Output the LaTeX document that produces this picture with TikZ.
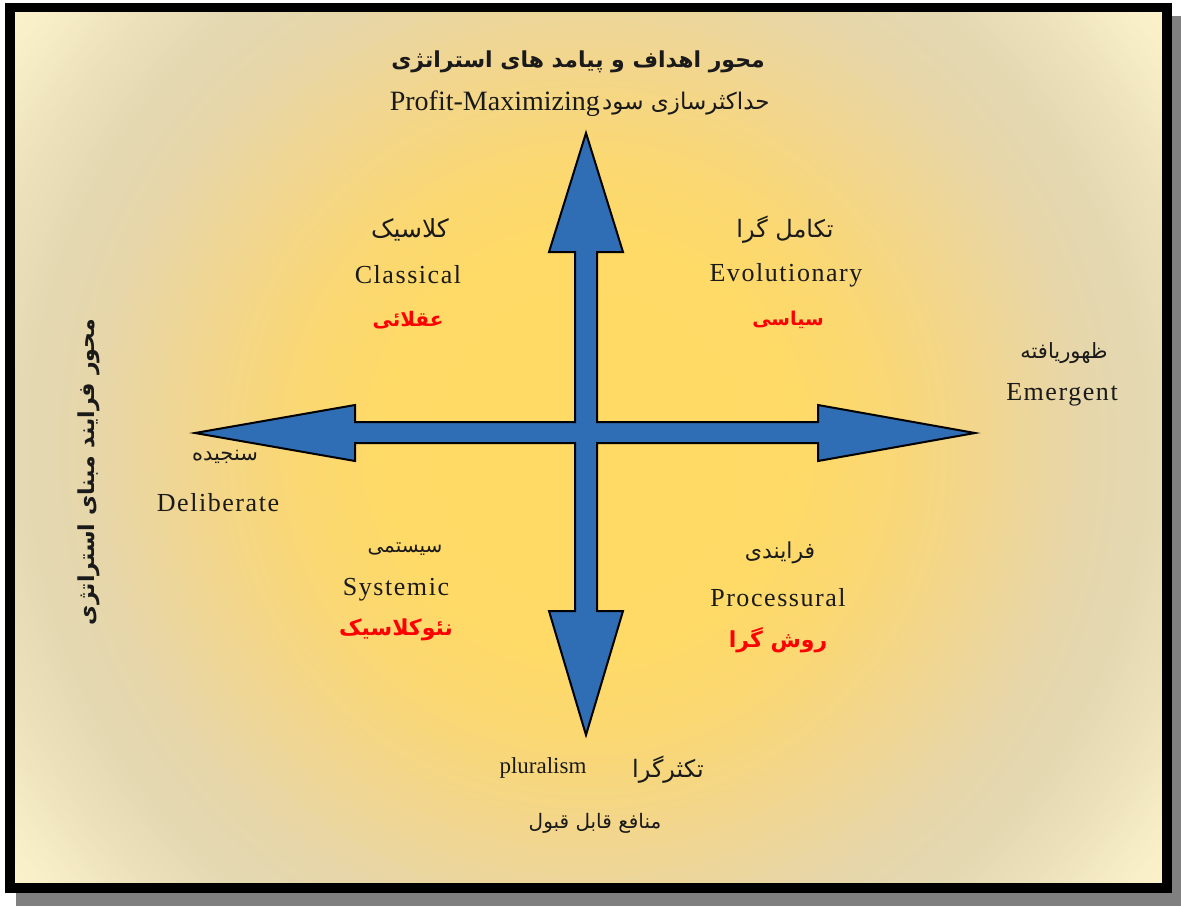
\documentclass[tikz,border=0pt]{standalone}
\usepackage{fontspec}
\setmainfont{Liberation Serif}
\newfontfamily\en[LetterSpace=6]{Liberation Serif}
\newfontfamily\enplain{Liberation Serif}
\newfontfamily\fa[Script=Arabic]{DejaVu Sans}
\TeXXeTstate=1
\definecolor{txt}{HTML}{1A1A1A}
\definecolor{arrowblue}{HTML}{2F6DB5}
\definecolor{shadowgray}{HTML}{808080}
\definecolor{sA}{RGB}{255,218,100}
\definecolor{sB}{RGB}{255,218,102}
\definecolor{sC}{RGB}{251,216,114}
\definecolor{sD}{RGB}{241,214,144}
\definecolor{sE}{RGB}{231,214,168}
\definecolor{sF}{RGB}{228,216,178}
\definecolor{sG}{RGB}{236,225,186}
\definecolor{sH}{RGB}{249,239,200}
\definecolor{sI}{RGB}{252,243,206}
\newcommand{\fasize}[1]{\fa\fontsize{#1}{#1}\selectfont}
\newcommand{\fabsize}[1]{\fa\bfseries\fontsize{#1}{#1}\selectfont}
\tikzset{
  en/.style={font=\en\fontsize{26}{30}\selectfont, text=txt, inner sep=0pt},
  fa/.style={font=\fasize{#1}, text=txt, inner sep=0pt},
  fa/.default=22,
  fared/.style={font=\fabsize{#1}, text=red, inner sep=0pt},
  fared/.default=20,
  fatitle/.style={font=\fabsize{22}, text=txt, inner sep=0pt},
  crossarrow/.style={fill=arrowblue, draw=black, line width=2pt, line join=miter},
}
\begin{document}
\begin{tikzpicture}[x=1pt,y=-1pt]
\useasboundingbox (0,0) rectangle (1181,906);
\fill[white] (0,0) rectangle (1181,906);
% shadow
\fill[shadowgray] (16,16) rectangle (1181,906);
% background: radial gradient from concentric discs
\coordinate (bgc) at (588,448);
\begin{scope}
  \clip (10,8) rectangle (1167,888);
  \fill[sI] (10,8) rectangle (1167,888);
  \foreach \ra/\rb/\ca/\cb in {700/750/sH/sI, 625/700/sG/sH, 560/625/sF/sG,
      490/560/sE/sF, 400/490/sD/sE, 290/400/sC/sD, 200/290/sB/sC, 4/200/sA/sB}{
    \pgfmathsetmacro\rstep{\rb-4}
    \foreach \r in {\rb,\rstep,...,\ra}{
      \pgfmathsetmacro\p{(\r-\ra)/(\rb-\ra)*100}
      \fill[\cb!\p!\ca] (bgc) circle[radius=\r pt];
    }
  }
\end{scope}
% frame
\draw[black, line width=9.5pt] (10,7.5) rectangle (1167,888);

% cross arrows
\coordinate (c) at (586,432);
\draw[crossarrow]
  (586,133) -- (623,252) -- (597,252) -- (597,422) -- (818,422) -- (818,405)
  -- (975,433) -- (818,461) -- (818,443) -- (597,443) -- (597,611) -- (623,611)
  -- (586,735) -- (549,611) -- (575,611) -- (575,443) -- (355,443) -- (355,461)
  -- (195,433) -- (355,405) -- (355,422) -- (575,422) -- (575,252) -- (549,252) -- cycle;

% top
\node[fatitle] (title) at (578,62) {\beginR محور اهداف و پیامد های استراتژی\endR};
\node[en, font=\enplain\fontsize{28}{32}\selectfont, anchor=east] (profit) at (600,104) {Profit-Maximizing};
\node[fa=23, anchor=west] (profitfa) at (602,104) {\beginR حداکثرسازی سود\endR};

% top-left quadrant
\node[fa=25] (klasik) at (410,230) {\beginR کلاسیک\endR};
\node[en] (classical) at (408,275) {Classical};
\node[fared=20] (aghlani) at (408,320) {\beginR عقلائی\endR};

% top-right quadrant
\node[fa=24] (takamol) at (785,230) {\beginR تکامل گرا\endR};
\node[en] (evol) at (786,275) {Evolutionary};
\node[fared=19] (siasi) at (788,320) {\beginR سیاسی\endR};

% right
\node[fa=21] (zohur) at (1064,353) {\beginR ظهوریافته\endR};
\node[en] (emergent) at (1062,395) {Emergent};

% left
\node[fa=21] (sanjideh) at (225,457) {\beginR سنجیده\endR};
\node[en] (delib) at (218,503) {Deliberate};

% bottom-left quadrant
\node[fa=20] (sistemi) at (405,549) {\beginR سیستمی\endR};
\node[en] (systemic) at (396,590) {Systemic};
\node[fared=22] (neo) at (396,630) {\beginR نئوکلاسیک\endR};

% bottom-right quadrant
\node[fa=22] (farayandi) at (780,553) {\beginR فرایندی\endR};
\node[en] (process) at (778,598) {Processural};
\node[fared=22] (ravesh) at (778,640) {\beginR روش گرا\endR};

% bottom
\node[en, font=\enplain\fontsize{23}{27}\selectfont] (plural) at (543,768) {pluralism};
\node[fa=24] (takassor) at (668,770) {\beginR تکثرگرا\endR};
\node[fa=20] (manafe) at (595,823) {\beginR منافع قابل قبول\endR};

% left vertical title
\node[fatitle, rotate=90] (vtitle) at (89,472) {\beginR محور فرایند مبنای استراتژی\endR};
\end{tikzpicture}
\end{document}
